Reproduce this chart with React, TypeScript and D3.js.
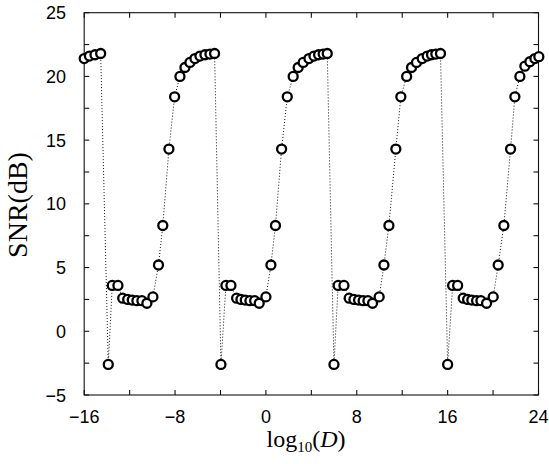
import * as d3 from "d3";

// SNR vs log10(D)
const logD = [
  -16.0, -15.54, -15.05, -14.55,
  -13.88, -13.53, -13.03, -12.61, -12.17, -11.77, -11.36, -10.92, -10.48, -9.95, -9.46,
  -9.08, -8.54, -8.04, -7.57, -7.13, -6.69, -6.25, -5.81, -5.37, -4.93, -4.52,
  -3.96, -3.52, -3.08, -2.58, -2.2, -1.82, -1.41, -0.99, -0.59, 0.0, 0.44,
  0.84, 1.38, 1.88, 2.4, 2.84, 3.28, 3.79, 4.23, 4.64, 5.04, 5.4,
  5.99, 6.36, 6.87, 7.33, 7.75, 8.16, 8.56, 8.98, 9.39, 9.97, 10.39,
  10.83, 11.44, 11.88, 12.39, 12.82, 13.26, 13.76, 14.2, 14.58, 14.96, 15.37,
  16.0, 16.44, 16.88, 17.37, 17.76, 18.13, 18.55, 18.93, 19.43, 20.01, 20.45,
  20.95, 21.54, 21.92, 22.36, 22.8, 23.24, 23.68, 24.03,
];
const snrDb = [
  21.4, 21.6, 21.7, 21.8,
  -2.6, 3.6, 3.6, 2.6, 2.5, 2.45, 2.4, 2.4, 2.2, 2.7, 5.2,
  8.3, 14.3, 18.4, 20.0, 20.7, 21.1, 21.4, 21.6, 21.7, 21.75, 21.8,
  -2.6, 3.6, 3.6, 2.6, 2.5, 2.45, 2.4, 2.4, 2.2, 2.7, 5.2,
  8.3, 14.3, 18.4, 20.0, 20.7, 21.1, 21.4, 21.6, 21.7, 21.75, 21.8,
  -2.6, 3.6, 3.6, 2.6, 2.5, 2.45, 2.4, 2.4, 2.2, 2.7, 5.2,
  8.3, 14.3, 18.4, 20.0, 20.7, 21.1, 21.4, 21.6, 21.7, 21.75, 21.8,
  -2.6, 3.6, 3.6, 2.6, 2.5, 2.45, 2.4, 2.4, 2.2, 2.7, 5.2,
  8.3, 14.3, 18.4, 20.0, 20.8, 21.15, 21.4, 21.55,
];

const xMajor = [-16, -8, 0, 8, 16, 24];
const xMinor = [-12, -4, 4, 12, 20];
const yMajor = [-5, 0, 5, 10, 15, 20, 25];
const yMinor = [-2.5, 2.5, 7.5, 12.5, 17.5, 22.5];

const W = 549;
const H = 464;
const left = 84.2;
const right = 538.5;
const top = 12.7;
const bottom = 395;

export default function App() {
  const x = d3.scaleLinear().domain([-16, 24]).range([left, right]);
  const y = d3.scaleLinear().domain([-5, 25]).range([bottom, top]);
  const pts = logD.map((d, i) => [d, snrDb[i]] as [number, number]);
  const line = d3.line<[number, number]>().x((d) => x(d[0])).y((d) => y(d[1]));
  const tk = 5;
  const fmt = (v: number) => (v < 0 ? "\u2212" + Math.abs(v) : String(v));

  return (
    <svg width={W} height={H} style={{ position: "absolute", left: 0, top: 0, background: "#fff" }}>
      <rect x={left} y={top} width={right - left} height={bottom - top} fill="none" stroke="#111" strokeWidth={1.1} />
      {[...xMajor, ...xMinor].map((v) => (
        <g key={"x" + v}>
          <line x1={x(v)} x2={x(v)} y1={bottom} y2={bottom - tk} stroke="#111" strokeWidth={1.1} />
          <line x1={x(v)} x2={x(v)} y1={top} y2={top + tk} stroke="#111" strokeWidth={1.1} />
        </g>
      ))}
      {[...yMajor, ...yMinor].map((v) => (
        <g key={"y" + v}>
          <line x1={left} x2={left + tk} y1={y(v)} y2={y(v)} stroke="#111" strokeWidth={1.1} />
          <line x1={right} x2={right - tk} y1={y(v)} y2={y(v)} stroke="#111" strokeWidth={1.1} />
        </g>
      ))}
      <g fontFamily="'Liberation Sans', Arial, sans-serif" fontSize={18} fill="#000">
        {xMajor.map((v) => (
          <text key={"xl" + v} x={x(v)} y={423} textAnchor="middle">{fmt(v)}</text>
        ))}
        {yMajor.map((v) => (
          <text key={"yl" + v} x={66} y={y(v) + 6.5} textAnchor="end">{fmt(v)}</text>
        ))}
      </g>
      <path d={line(pts) ?? ""} fill="none" stroke="#111" strokeWidth={1} strokeDasharray="1 2" />
      {pts.map((d, i) => (
        <circle key={i} cx={x(d[0])} cy={y(d[1])} r={4.5} fill="#fff" stroke="#000" strokeWidth={2.3} />
      ))}
      <text
        transform={`translate(27,205) rotate(-90)`}
        textAnchor="middle"
        fontFamily="'Liberation Serif', 'Times New Roman', serif"
        fontSize={28}
      >
        SNR(dB)
      </text>
      <text x={306} y={446.7} textAnchor="middle" fontFamily="'Liberation Serif', 'Times New Roman', serif" fontSize={24}>
        log<tspan fontSize={15} dy={5}>10</tspan>
        <tspan dy={-5}>(</tspan>
        <tspan fontStyle="italic">D</tspan>)
      </text>
    </svg>
  );
}
